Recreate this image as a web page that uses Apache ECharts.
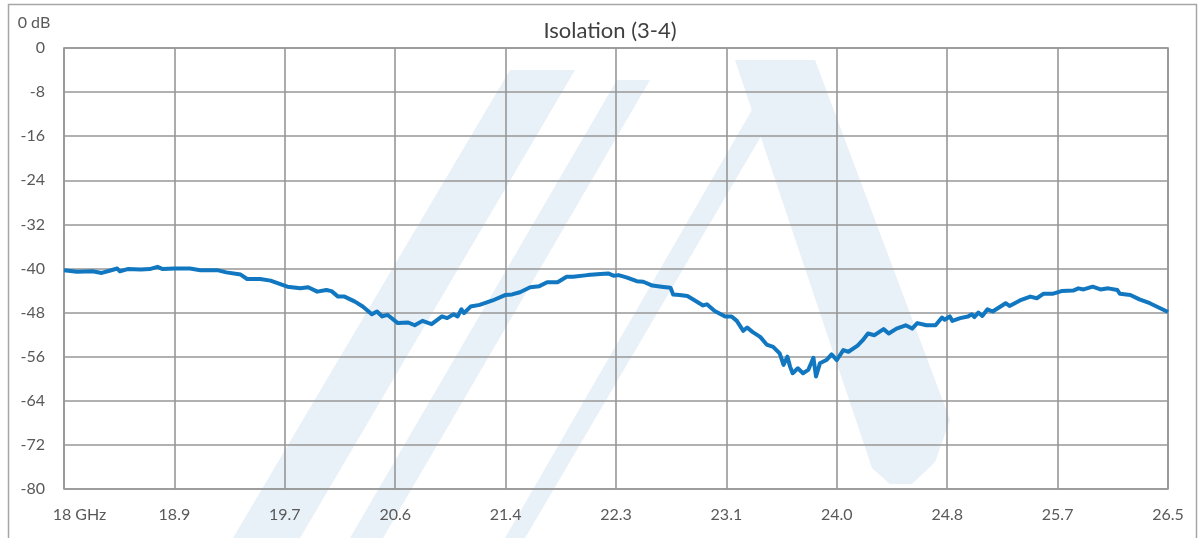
<!DOCTYPE html>
<html><head><meta charset="utf-8">
<script src="https://cdn.jsdelivr.net/npm/echarts@6/dist/echarts.min.js"></script>
<style>html,body{margin:0;padding:0;background:#fff}#c{width:1204px;height:538px}</style>
</head><body><div id="c"></div>
<script>
const titleText = 'Isolation (3-4)';
const yUnitLabel = '0 dB';
const xTickLabels = ['18 GHz','18.9','19.7','20.6','21.4','22.3','23.1','24.0','24.8','25.7','26.5'];
const freqGHz = [18.00,18.10,18.22,18.29,18.35,18.41,18.43,18.49,18.59,18.66,18.72,18.76,18.85,18.97,19.05,19.18,19.25,19.36,19.41,19.51,19.59,19.72,19.82,19.88,19.95,20.02,20.06,20.11,20.16,20.24,20.30,20.37,20.41,20.45,20.49,20.57,20.65,20.70,20.76,20.83,20.91,20.95,21.00,21.03,21.06,21.08,21.13,21.20,21.30,21.40,21.45,21.51,21.59,21.66,21.72,21.80,21.87,21.92,22.03,22.13,22.19,22.23,22.27,22.33,22.41,22.46,22.53,22.60,22.67,22.69,22.74,22.80,22.87,22.92,22.95,23.01,23.09,23.14,23.18,23.23,23.26,23.30,23.36,23.41,23.46,23.51,23.54,23.57,23.59,23.61,23.65,23.69,23.73,23.77,23.79,23.82,23.87,23.91,23.95,24.00,24.04,24.11,24.15,24.19,24.24,24.31,24.35,24.41,24.48,24.53,24.57,24.64,24.71,24.76,24.78,24.82,24.84,24.90,24.96,24.99,25.01,25.04,25.07,25.11,25.15,25.25,25.28,25.36,25.44,25.49,25.54,25.61,25.68,25.77,25.81,25.85,25.92,25.98,26.04,26.11,26.13,26.21,26.28,26.36,26.44,26.50];
const isolationDb = [-40.3,-40.6,-40.5,-40.8,-40.4,-40.0,-40.5,-40.1,-40.2,-40.1,-39.7,-40.1,-40.0,-40.0,-40.3,-40.3,-40.7,-41.1,-41.9,-41.9,-42.2,-43.3,-43.6,-43.4,-44.2,-43.9,-44.1,-45.1,-45.1,-46.0,-46.9,-48.3,-47.8,-48.7,-48.4,-49.9,-49.8,-50.3,-49.5,-50.1,-48.7,-49.0,-48.3,-48.7,-47.4,-48.1,-46.9,-46.6,-45.8,-44.8,-44.7,-44.3,-43.4,-43.2,-42.5,-42.5,-41.5,-41.5,-41.2,-41.0,-40.9,-41.3,-41.2,-41.6,-42.3,-42.4,-43.1,-43.3,-43.5,-44.7,-44.8,-45.0,-46.0,-46.7,-46.5,-47.7,-48.7,-48.7,-49.5,-51.3,-50.7,-51.5,-52.4,-53.8,-54.2,-55.4,-57.5,-56.0,-57.8,-59.0,-58.1,-59.0,-58.4,-56.2,-59.6,-57.2,-56.6,-55.6,-56.6,-54.8,-55.1,-54.0,-53.0,-51.8,-52.1,-51.0,-51.8,-50.9,-50.3,-50.9,-49.9,-50.3,-50.3,-48.9,-49.3,-48.7,-49.5,-49.0,-48.7,-48.3,-48.8,-48.0,-48.6,-47.4,-47.8,-46.3,-46.8,-45.8,-45.1,-45.4,-44.6,-44.6,-44.1,-44.0,-43.6,-43.8,-43.3,-43.8,-43.6,-43.9,-44.6,-44.8,-45.6,-46.3,-47.2,-47.9];

const chart = echarts.init(document.getElementById('c'), null, {renderer:'canvas'});
const font = 'Lato, "Open Sans", sans-serif';
const gridColor = '#979797';
const labelColor = '#595959';
const wmColor = '#e8f0f8';
const seriesData = freqGHz.map((f, i) => [f, isolationDb[i]]);
function wm(points){ return {type:'polygon', shape:{points:points}, style:{fill:wmColor}, z:-5, silent:true}; }
chart.setOption({
  animation: false,
  backgroundColor: '#fff',
  title: {text: titleText, left: 605, top: 15, textAlign: 'center',
    textStyle: {fontFamily: font, fontSize: 22, fontWeight: 'normal', color: '#404040'}},
  grid: {left: 64, right: 36, top: 48, bottom: 49},
  xAxis: {type:'value', min:18, max:26.5, interval:0.85,
    axisLine:{show:false}, axisTick:{show:false},
    splitLine:{show:true, lineStyle:{color:gridColor, width:1.6}},
    axisLabel:{margin:18, color:labelColor, fontFamily:font, fontSize:16,
      formatter: v => { const i = Math.round((v-18)/0.85); return i === 0 ? '{a|'+xTickLabels[0]+'}' : xTickLabels[i]; },
      rich:{a:{fontFamily:font, fontSize:16, color:labelColor, padding:[0,0,0,31]}}}
  },
  yAxis: {type:'value', min:-80, max:0, interval:8,
    name: yUnitLabel, nameLocation:'end', nameGap:17,
    nameTextStyle:{fontFamily:font, fontSize:16, color:labelColor, padding:[0,60,0,0]},
    axisLine:{show:false}, axisTick:{show:false},
    splitLine:{show:true, lineStyle:{color:gridColor, width:1.6}},
    axisLabel:{margin:19, color:labelColor, fontFamily:font, fontSize:16}
  },
  graphic: [
    wm([[735,60],[815,60],[950,420],[935,462],[912,484],[890,484],[872,468]]),
    wm([[233,538],[300,538],[575,70],[510,70]]),
    wm([[350,538],[383,538],[650,80],[617,80]]),
    wm([[505,538],[525,538],[800,70],[775,70]]),
    {type:'rect', shape:{x:8.5, y:4.5, width:1188, height:600}, style:{fill:'none', stroke:'#a6a6a6', lineWidth:1.5}, z:-1, silent:true},
    {type:'rect', shape:{x:64, y:48, width:1104, height:441}, style:{fill:'none', stroke:gridColor, lineWidth:1.6}, z:1, silent:true}
  ],
  series: [{type:'line', data: seriesData, showSymbol:false, smooth:false,
    lineStyle:{color:'#1177c0', width:4, join:'round'}, z:5}]
});
</script></body></html>
